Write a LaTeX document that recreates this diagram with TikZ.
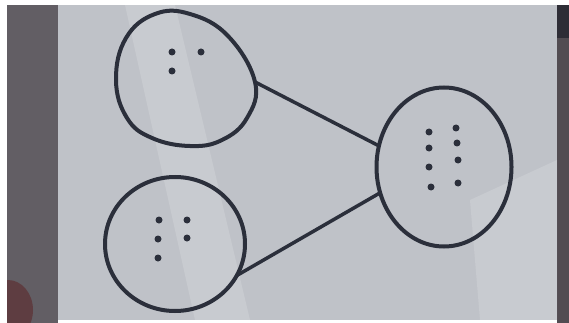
\documentclass[tikz,border=0pt]{standalone}
\usepackage{xcolor}
\usepackage{tikz}
\usetikzlibrary{shapes.geometric}
\usetikzlibrary{positioning}

\definecolor{inchiostro}{HTML}{2B2F3B}
\definecolor{lavagna}{HTML}{BFC2C8}
\definecolor{sfondo}{HTML}{625E64}
\definecolor{bordo}{HTML}{524C52}
\definecolor{angolo}{HTML}{2E2D36}

\tikzset{
  insieme/.style={ellipse, draw=inchiostro, line width=4pt, inner sep=0pt, outer sep=0pt},
  punto/.style={circle, fill=inchiostro, inner sep=0pt, minimum size=7pt},
  arco/.style={draw=inchiostro, line width=3.5pt, line cap=round}
}

\begin{document}
\begin{tikzpicture}[x=1pt, y=-1pt]
        \useasboundingbox (0,0) rectangle (569,323);

        % Sfondo (lavagna)
        \fill[white] (0,0) rectangle (569,323);
        \fill[sfondo] (7,5) rectangle (58,323);
        \begin{scope}
            \clip (7,5) rectangle (58,323);
            \fill[red!35!black, opacity=0.35] (8,310) ellipse (25 and 30);
        \end{scope}
        \fill[bordo] (557,5) rectangle (569,323);
        \fill[angolo] (557,5) rectangle (569,38);
        \fill[lavagna] (58,5) rectangle (557,320);
        \fill[white, opacity=0.15] (125,5) -- (175,5) -- (250,320) -- (195,320) -- cycle;
        \fill[white, opacity=0.15] (470,200) -- (557,160) -- (557,320) -- (480,320) -- cycle;

        % Insiemi
        \node[insieme, minimum width=140pt, minimum height=134pt] (B) at (175,244) {};
        \node[insieme, minimum width=135pt, minimum height=159pt] (C) at (444,167) {};
        % Insieme a goccia
        \draw[inchiostro, line width=4pt] plot[smooth cycle, tension=0.7] coordinates
            {(255,82) (247,118) (222,140) (190,146) (152,138) (127,118) (116,80) (126,38) (155,14) (190,14) (228,36)};
        \coordinate (A) at (255,82);

        % Punti
        \foreach \p [count=\i] in {(172,52), (201,52), (172,71)}
            \node[punto] (a\i) at \p {};
        \foreach \p [count=\i] in {(159,220), (187,220), (158,239), (187,238), (158,258)}
            \node[punto] (b\i) at \p {};
        \foreach \p [count=\i] in {(429,132), (429,148), (429,167), (431,187), (456,128), (457,143), (458,160), (458,183)}
            \node[punto] (c\i) at \p {};

        % Collegamenti
        \draw[arco] (A) -- (C.162);
        \draw[arco] (B.-27) -- (C.202);
    \end{tikzpicture}
\end{document}
